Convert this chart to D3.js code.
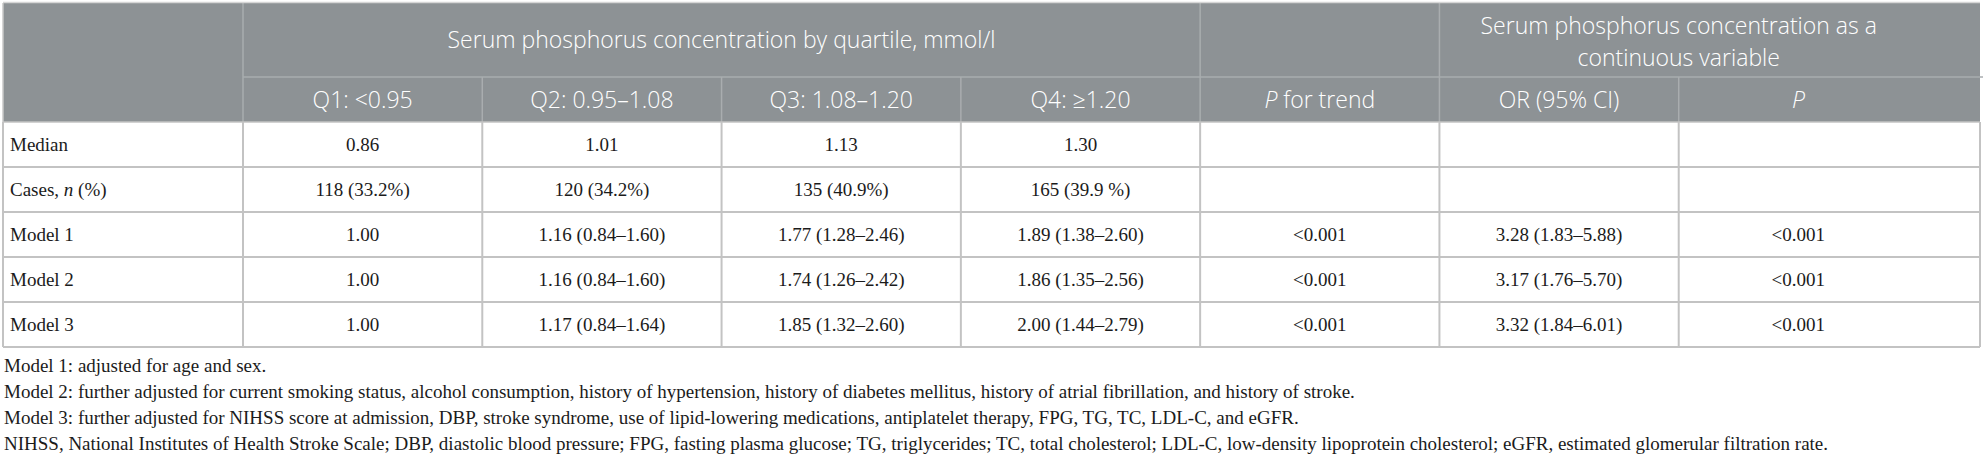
<!DOCTYPE html>
<html>
<head>
<meta charset="utf-8">
<script src="https://cdn.jsdelivr.net/npm/d3@7"></script>
<style>
  html, body { margin: 0; padding: 0; background: #fff; }
  svg { display: block; }
  .hdr { font-family: "Open Sans", sans-serif; font-weight: 300; fill: #ffffff; font-size: 23px; }
  .cell { font-family: "Liberation Serif", "Times New Roman", serif; fill: #1b1b1b; font-size: 19px; }
  .foot { font-family: "Liberation Serif", "Times New Roman", serif; fill: #1b1b1b; font-size: 19px; }
</style>
</head>
<body>
<svg id="chart" width="1986" height="456"></svg>
<script>
// ---------- data ----------
const groupHeader1 = "Serum phosphorus concentration by quartile, mmol/l";
const groupHeader2 = ["Serum phosphorus concentration as a", "continuous variable"];
const columnKeys = ["Q1", "Q2", "Q3", "Q4", "Ptrend", "OR", "P"];
const quartileLabels = ["Q1: <0.95", "Q2: 0.95–1.08", "Q3: 1.08–1.20", "Q4: ≥1.20"];
const rowLabels = ["Median", "Cases, n (%)", "Model 1", "Model 2", "Model 3"];
const q1Values = ["0.86", "118 (33.2%)", "1.00", "1.00", "1.00"];
const q2Values = ["1.01", "120 (34.2%)", "1.16 (0.84–1.60)", "1.16 (0.84–1.60)", "1.17 (0.84–1.64)"];
const q3Values = ["1.13", "135 (40.9%)", "1.77 (1.28–2.46)", "1.74 (1.26–2.42)", "1.85 (1.32–2.60)"];
const q4Values = ["1.30", "165 (39.9 %)", "1.89 (1.38–2.60)", "1.86 (1.35–2.56)", "2.00 (1.44–2.79)"];
const pTrendValues = ["", "", "<0.001", "<0.001", "<0.001"];
const orValues = ["", "", "3.28 (1.83–5.88)", "3.17 (1.76–5.70)", "3.32 (1.84–6.01)"];
const pValues = ["", "", "<0.001", "<0.001", "<0.001"];
const footnotes = [
  "Model 1: adjusted for age and sex.",
  "Model 2: further adjusted for current smoking status, alcohol consumption, history of hypertension, history of diabetes mellitus, history of atrial fibrillation, and history of stroke.",
  "Model 3: further adjusted for NIHSS score at admission, DBP, stroke syndrome, use of lipid-lowering medications, antiplatelet therapy, FPG, TG, TC, LDL-C, and eGFR.",
  "NIHSS, National Institutes of Health Stroke Scale; DBP, diastolic blood pressure; FPG, fasting plasma glucose; TG, triglycerides; TC, total cholesterol; LDL-C, low-density lipoprotein cholesterol; eGFR, estimated glomerular filtration rate."
];

const columnValues = [q1Values, q2Values, q3Values, q4Values, pTrendValues, orValues, pValues];

// ---------- layout ----------
const svg = d3.select("#chart");
const tLeft = 3, labelRight = 243, dataRight = 1918, tableRight = 1980;
const tTop = 3, h1Bottom = 77, h2Bottom = 122, bodyBottom = 347;
const headFill = "#8d9295", headLine = "#a9adaf", bodyLine = "#c3c3c3";

const x = d3.scaleBand().domain(columnKeys).range([labelRight, dataRight]);
const y = d3.scaleBand().domain(rowLabels).range([h2Bottom, bodyBottom]);

// header background
svg.append("rect").attr("x", tLeft).attr("y", tTop)
  .attr("width", tableRight - tLeft).attr("height", h2Bottom - tTop).attr("fill", headFill);

// header lines
const hl = svg.append("g").attr("stroke", headLine).attr("stroke-width", 1.5);
hl.append("line").attr("x1", labelRight).attr("x2", tableRight + 3).attr("y1", h1Bottom).attr("y2", h1Bottom);
[labelRight, x("Ptrend"), x("OR")].forEach(v =>
  hl.append("line").attr("x1", v).attr("x2", v).attr("y1", tTop).attr("y2", h2Bottom));
[x("Q2"), x("Q3"), x("Q4"), x("P")].forEach(v =>
  hl.append("line").attr("x1", v).attr("x2", v).attr("y1", h1Bottom).attr("y2", h2Bottom));
svg.append("line").attr("x1", tLeft).attr("x2", tableRight).attr("y1", tTop - 0.5).attr("y2", tTop - 0.5)
  .attr("stroke", "#d6d6d6").attr("stroke-width", 1.5);

// body grid
const gl = svg.append("g").attr("stroke", bodyLine).attr("stroke-width", 2);
rowLabels.forEach(r => {
  gl.append("line").attr("x1", tLeft).attr("x2", tableRight)
    .attr("y1", y(r) + y.bandwidth()).attr("y2", y(r) + y.bandwidth());
});
gl.append("line").attr("x1", tLeft).attr("x2", tableRight).attr("y1", h2Bottom).attr("y2", h2Bottom).attr("stroke-width", 1.5);
[tLeft, labelRight].concat(columnKeys.slice(1).map(k => x(k))).concat([tableRight]).forEach(v => {
  gl.append("line").attr("x1", v).attr("x2", v).attr("y1", h2Bottom).attr("y2", bodyBottom);
});
svg.append("line").attr("x1", tLeft).attr("x2", tLeft).attr("y1", tTop).attr("y2", h2Bottom)
  .attr("stroke", "#c9c9c9").attr("stroke-width", 1.5);

// header text
const ht = svg.append("g").attr("class", "hdr").attr("text-anchor", "middle");
ht.append("text").attr("x", (x("Q1") + x("Q4") + x.bandwidth()) / 2).attr("y", 48).text(groupHeader1);
const g2x = (x("OR") + x("P") + x.bandwidth()) / 2;
groupHeader2.forEach((t, i) => {
  ht.append("text").attr("x", g2x).attr("y", 34 + i * 32).text(t);
});
quartileLabels.forEach((t, i) => {
  ht.append("text").attr("x", x(columnKeys[i]) + x.bandwidth() / 2).attr("y", 108).text(t);
});
const pt = ht.append("text").attr("x", x("Ptrend") + x.bandwidth() / 2).attr("y", 108);
pt.append("tspan").attr("font-style", "italic").text("P");
pt.append("tspan").text(" for trend");
ht.append("text").attr("x", x("OR") + x.bandwidth() / 2).attr("y", 108).text("OR (95% CI)");
ht.append("text").attr("x", x("P") + x.bandwidth() / 2).attr("y", 108).attr("font-style", "italic").text("P");

// body text
const bt = svg.append("g").attr("class", "cell");
rowLabels.forEach(r => {
  const t = bt.append("text").attr("x", 10).attr("y", y(r) + y.bandwidth() / 2 + 6);
  if (r.includes(" n ")) {
    const parts = r.split(" n ");
    t.append("tspan").text(parts[0] + " ");
    t.append("tspan").attr("font-style", "italic").text("n");
    t.append("tspan").text(" " + parts[1]);
  } else t.text(r);
});
columnKeys.forEach((k, ci) => {
  columnValues[ci].forEach((v, ri) => {
    if (!v) return;
    bt.append("text").attr("text-anchor", "middle")
      .attr("x", x(k) + x.bandwidth() / 2)
      .attr("y", y(rowLabels[ri]) + y.bandwidth() / 2 + 6)
      .text(v);
  });
});

// footnotes
const ft = svg.append("g").attr("class", "foot");
footnotes.forEach((f, i) => {
  ft.append("text").attr("x", 4).attr("y", 372 + i * 26).text(f);
});
</script>
</body>
</html>
